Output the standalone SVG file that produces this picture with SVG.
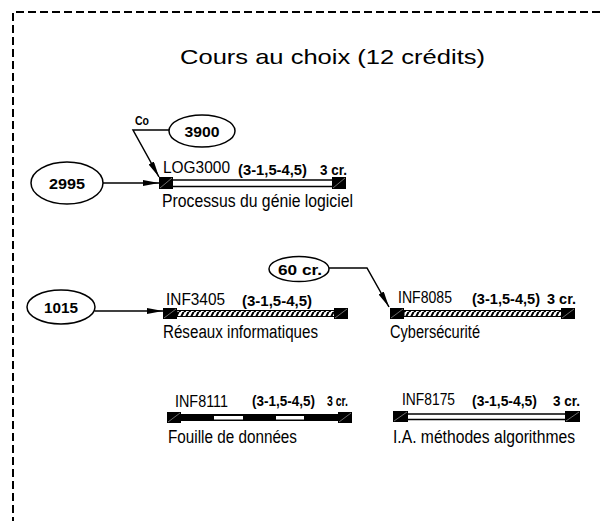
<svg xmlns="http://www.w3.org/2000/svg" width="604" height="521" viewBox="0 0 604 521">
  <style>
    .t { font-family: "Liberation Sans", Arial, sans-serif; fill: #000; }
    .code { font-size: 17px; }
    .hrs { font-size: 14px; font-weight: bold; }
    .name { font-size: 18px; }
    .ell { fill: #fff; stroke: #000; stroke-width: 1.5; }
    .etxt { font-size: 15px; font-weight: bold; text-anchor: middle; }
    .cap { fill: #000; }
    .diag { stroke: #888; stroke-width: 0.8; }
    .dbl { stroke: #000; stroke-width: 1.5; }
    .conn { fill: none; stroke: #000; stroke-width: 1.5; }
    .border { fill: none; stroke: #000; stroke-width: 2; stroke-dasharray: 8 4; }
  </style>
  <defs>
    <marker id="arr" viewBox="0 0 16 6" refX="16" refY="3" markerWidth="16" markerHeight="6" markerUnits="userSpaceOnUse" orient="auto">
      <path d="M0,0 L16,3 L0,6 Z" fill="#000"/>
    </marker>
    <pattern id="hatch" patternUnits="userSpaceOnUse" width="5" height="8">
      <rect width="5" height="8" fill="#fff"/>
      <path d="M-1,9 L4,-1 M4,9 L9,-1" stroke="#000" stroke-width="2"/>
    </pattern>
  </defs>

  <rect width="604" height="521" fill="#fff"/>
  <path class="border" d="M13,525 L13,12 L610,12"/>

  <text class="t" x="180" y="64" font-size="21" textLength="305" lengthAdjust="spacingAndGlyphs">Cours au choix (12 crédits)</text>

  <g id="connectors">
    <line class="conn" x1="103" y1="183" x2="159" y2="183" marker-end="url(#arr)"/>
    <polyline class="conn" points="169,130 133,130 159,177" marker-end="url(#arr)"/>
    <line class="conn" x1="95" y1="311" x2="163" y2="311" marker-end="url(#arr)"/>
    <polyline class="conn" points="329,268 367,268 389,307" marker-end="url(#arr)"/>
  </g>

  <g id="n2995">
    <ellipse class="ell" cx="67" cy="183" rx="36" ry="21"/>
    <text class="t etxt" x="67" y="189" textLength="36" lengthAdjust="spacingAndGlyphs">2995</text>
  </g>
  <g id="n3900">
    <ellipse class="ell" cx="202" cy="131" rx="33" ry="16"/>
    <text class="t etxt" x="202" y="137" textLength="35" lengthAdjust="spacingAndGlyphs">3900</text>
    <text class="t" x="135" y="125" font-size="13" font-weight="bold" textLength="14" lengthAdjust="spacingAndGlyphs">Co</text>
  </g>
  <g id="n1015">
    <ellipse class="ell" cx="61" cy="307" rx="34" ry="17"/>
    <text class="t etxt" x="61" y="313" textLength="34" lengthAdjust="spacingAndGlyphs">1015</text>
  </g>
  <g id="n60cr">
    <ellipse class="ell" cx="299" cy="269" rx="30" ry="12.5"/>
    <text class="t etxt" x="300" y="275" textLength="44" lengthAdjust="spacingAndGlyphs">60 cr.</text>
  </g>

  <g id="LOG3000">
    <line class="dbl" x1="173" y1="180" x2="332" y2="180"/>
    <line class="dbl" x1="173" y1="186.5" x2="332" y2="186.5"/>
    <rect class="cap" x="159" y="177" width="14" height="12"/>
    <line class="diag" x1="160" y1="188" x2="172" y2="178"/>
    <rect class="cap" x="332" y="177" width="14" height="12"/>
    <line class="diag" x1="333" y1="188" x2="345" y2="178"/>
    <text class="t code" x="163" y="173" textLength="67" lengthAdjust="spacingAndGlyphs">LOG3000</text>
    <text class="t hrs" x="238" y="175" textLength="69" lengthAdjust="spacingAndGlyphs">(3-1,5-4,5)</text>
    <text class="t hrs" x="320" y="175" textLength="27" lengthAdjust="spacingAndGlyphs">3 cr.</text>
    <text class="t name" x="162" y="207" textLength="191" lengthAdjust="spacingAndGlyphs">Processus du génie logiciel</text>
  </g>

  <g id="INF3405">
    <rect x="177" y="310.5" width="158" height="6" fill="url(#hatch)" stroke="#000" stroke-width="1"/>
    <rect class="cap" x="163" y="308" width="14" height="11"/>
    <line class="diag" x1="164" y1="318" x2="176" y2="309"/>
    <rect class="cap" x="334" y="308" width="14" height="11"/>
    <line class="diag" x1="335" y1="318" x2="347" y2="309"/>
    <text class="t code" x="166" y="305" textLength="59" lengthAdjust="spacingAndGlyphs">INF3405</text>
    <text class="t hrs" x="242" y="306" textLength="70" lengthAdjust="spacingAndGlyphs">(3-1,5-4,5)</text>
    <text class="t name" x="163" y="338" textLength="155" lengthAdjust="spacingAndGlyphs">Réseaux informatiques</text>
  </g>

  <g id="INF8085">
    <rect x="404" y="310.5" width="158" height="6" fill="url(#hatch)" stroke="#000" stroke-width="1"/>
    <rect class="cap" x="390" y="308" width="14" height="11"/>
    <line class="diag" x1="391" y1="318" x2="403" y2="309"/>
    <rect class="cap" x="561" y="308" width="14" height="11"/>
    <line class="diag" x1="562" y1="318" x2="574" y2="309"/>
    <text class="t code" x="398" y="303" textLength="54" lengthAdjust="spacingAndGlyphs">INF8085</text>
    <text class="t hrs" x="472" y="304" textLength="68" lengthAdjust="spacingAndGlyphs">(3-1,5-4,5)</text>
    <text class="t hrs" x="547" y="304" textLength="29" lengthAdjust="spacingAndGlyphs">3 cr.</text>
    <text class="t name" x="390" y="338" textLength="90" lengthAdjust="spacingAndGlyphs">Cybersécurité</text>
  </g>

  <g id="INF8111">
    <rect x="181" y="414" width="157" height="7" fill="#000"/>
    <rect x="214" y="416" width="29" height="3.5" fill="#fff"/>
    <rect x="276" y="416" width="28" height="3.5" fill="#fff"/>
    <rect class="cap" x="167" y="412" width="14" height="11"/>
    <line class="diag" x1="168" y1="422" x2="180" y2="413"/>
    <rect class="cap" x="338" y="412" width="14" height="11"/>
    <line class="diag" x1="339" y1="422" x2="351" y2="413"/>
    <text class="t code" x="175" y="407" textLength="53" lengthAdjust="spacingAndGlyphs">INF8111</text>
    <text class="t hrs" x="252" y="406" textLength="63" lengthAdjust="spacingAndGlyphs">(3-1,5-4,5)</text>
    <text class="t hrs" x="327" y="406" textLength="21" lengthAdjust="spacingAndGlyphs">3 cr.</text>
    <text class="t name" x="168" y="443" textLength="129" lengthAdjust="spacingAndGlyphs">Fouille de données</text>
  </g>

  <g id="INF8175">
    <line class="dbl" x1="408" y1="414" x2="565" y2="414"/>
    <line class="dbl" x1="408" y1="419.5" x2="565" y2="419.5"/>
    <rect class="cap" x="393" y="411" width="15" height="11"/>
    <line class="diag" x1="394" y1="421" x2="407" y2="412"/>
    <rect class="cap" x="565" y="411" width="15" height="11"/>
    <line class="diag" x1="566" y1="421" x2="579" y2="412"/>
    <text class="t code" x="402" y="405" textLength="53" lengthAdjust="spacingAndGlyphs">INF8175</text>
    <text class="t hrs" x="472" y="406" textLength="65" lengthAdjust="spacingAndGlyphs">(3-1,5-4,5)</text>
    <text class="t hrs" x="553" y="406" textLength="27" lengthAdjust="spacingAndGlyphs">3 cr.</text>
    <text class="t name" x="393" y="443" textLength="182" lengthAdjust="spacingAndGlyphs">I.A. méthodes algorithmes</text>
  </g>
</svg>
